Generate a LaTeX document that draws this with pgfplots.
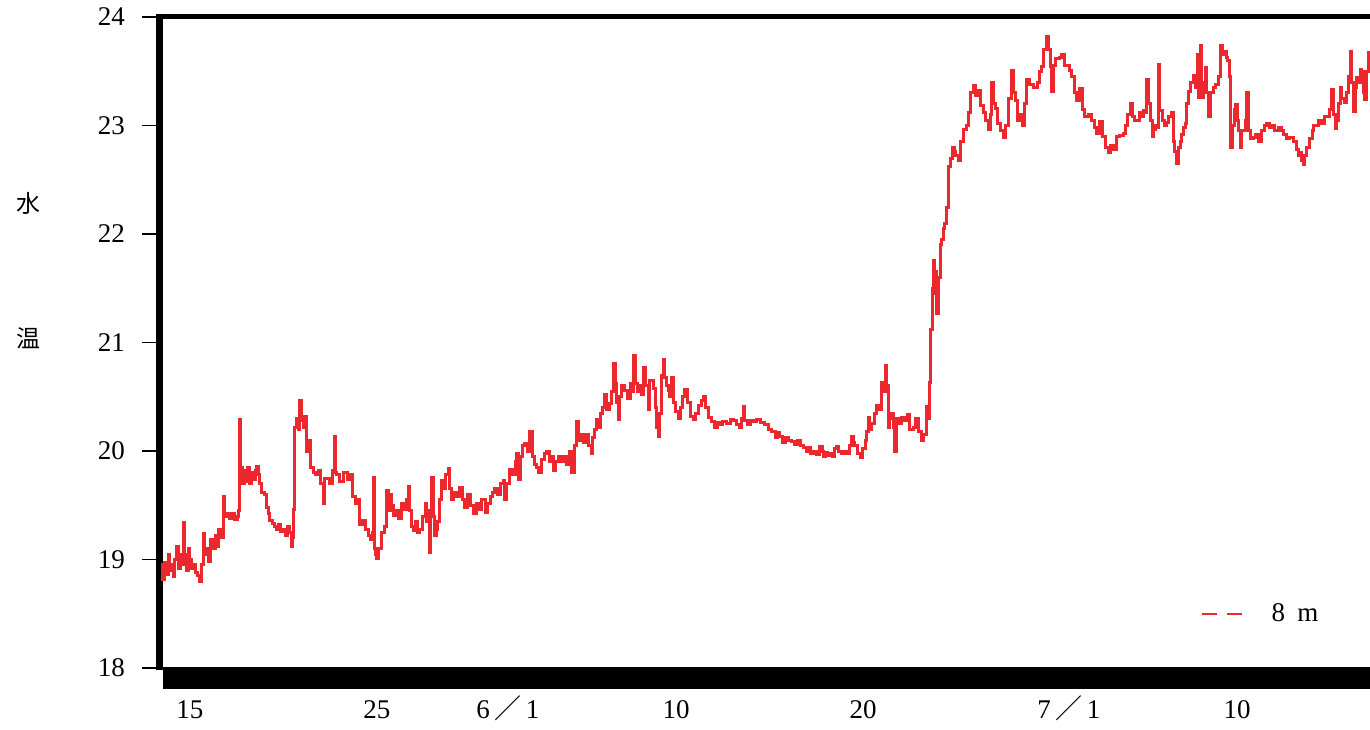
\documentclass[border=0pt]{standalone}
\usepackage{pgfplots}
\pgfplotsset{compat=1.18}
\usepackage{fontspec}
\setmainfont{Liberation Serif}
\newfontfamily\cjk{Noto Sans CJK JP}
\definecolor{plotred}{RGB}{236,40,46}
\begin{document}
\begin{tikzpicture}
\useasboundingbox (-80pt,-30.5pt) rectangle (605pt,334pt);
\begin{axis}[
  scale only axis,
  width=605pt, height=325.5pt,
  xmin=13.4, xmax=78.1,
  ymin=18, ymax=24,
  clip=false,
  axis line style={draw=none},
  font=\fontsize{13.5}{16}\selectfont,
  /pgf/number format/assume math mode=true,
  ytick={18,19,20,21,22,23,24},
  ytick pos=left,
  tick align=outside,
  major tick length=9pt,
  ytick style={black, line width=0.8pt},
  yticklabel style={xshift=-5pt},
  xtick={15,25,32,41,51,62,71},
  xticklabels={15,25,{6\,{\cjk ／}\,1},10,20,{7\,{\cjk ／}\,1},10},
  xtick style={draw=none},
  xticklabel style={anchor=base, yshift=-16pt},
  legend style={draw=none, fill=none, at={(axis description cs:0.8595,0.083)}, anchor=west, inner sep=0pt, font=\fontsize{13.5}{16}\selectfont},
]
% frame
\fill[black] (axis cs:13.56,18.01) rectangle (axis cs:78.3,17.806);
\draw[black, line width=3.5pt] (axis cs:13.396,24.03) -- (axis cs:13.396,17.98);
\draw[black, line width=2.5pt] (axis cs:13.3,24.005) -- (axis cs:78.3,24.005);

\addplot[const plot, plotred, line width=1.5pt, forget plot] coordinates {
(13.45,18.95)(13.55,18.82)(13.66,18.97)(13.75,18.86)(13.85,19.05)(13.93,18.90)(14.02,18.95)(14.12,18.84)(14.20,19.00)(14.29,19.12)(14.38,18.92)(14.47,19.05)(14.55,18.95)(14.64,19.34)(14.70,19.05)(14.80,18.90)(14.90,19.10)(15.00,19.00)(15.10,18.92)(15.20,18.95)(15.30,18.88)(15.40,18.85)(15.50,18.80)(15.60,18.95)(15.71,19.24)(15.80,19.05)(15.90,19.10)(16.00,18.98)(16.10,19.18)(16.25,19.10)(16.35,19.22)(16.45,19.12)(16.55,19.28)(16.65,19.20)(16.78,19.58)(16.85,19.40)(16.96,19.42)(17.10,19.38)(17.25,19.42)(17.40,19.37)(17.55,19.40)(17.62,19.45)(17.67,20.29)(17.72,19.85)(17.80,19.70)(17.90,19.82)(18.00,19.72)(18.10,19.85)(18.20,19.70)(18.30,19.80)(18.40,19.74)(18.50,19.82)(18.57,19.86)(18.65,19.78)(18.74,19.70)(18.85,19.62)(19.00,19.60)(19.10,19.48)(19.20,19.42)(19.28,19.36)(19.40,19.33)(19.50,19.30)(19.63,19.28)(19.75,19.32)(19.85,19.26)(20.00,19.28)(20.10,19.22)(20.20,19.30)(20.35,19.25)(20.44,19.12)(20.50,19.20)(20.53,19.46)(20.58,20.00)(20.61,20.22)(20.70,20.30)(20.80,20.20)(20.88,20.47)(20.95,20.28)(21.05,20.22)(21.15,20.32)(21.24,20.00)(21.35,20.10)(21.45,19.85)(21.59,19.80)(21.70,19.78)(21.85,19.82)(22.00,19.70)(22.13,19.52)(22.20,19.75)(22.31,19.75)(22.45,19.70)(22.60,19.82)(22.75,20.13)(22.80,19.80)(22.84,19.78)(23.00,19.72)(23.20,19.80)(23.40,19.74)(23.56,19.78)(23.70,19.58)(23.85,19.52)(24.00,19.55)(24.09,19.32)(24.25,19.36)(24.40,19.28)(24.55,19.22)(24.63,19.18)(24.75,19.25)(24.80,19.76)(24.85,19.10)(24.92,19.05)(24.98,19.01)(25.10,19.10)(25.25,19.25)(25.40,19.30)(25.52,19.64)(25.60,19.45)(25.70,19.60)(25.80,19.50)(25.87,19.41)(26.00,19.45)(26.15,19.38)(26.30,19.52)(26.45,19.46)(26.59,19.55)(26.67,19.67)(26.75,19.45)(26.85,19.30)(26.94,19.27)(27.05,19.35)(27.15,19.25)
(27.30,19.28)(27.45,19.40)(27.57,19.52)(27.65,19.35)(27.75,19.45)(27.83,19.06)(27.88,19.40)(27.92,19.76)(28.00,19.40)(28.08,19.22)(28.16,19.28)(28.25,19.35)(28.35,19.55)(28.46,19.73)(28.55,19.65)(28.65,19.78)(28.81,19.84)(28.90,19.65)(29.00,19.55)(29.10,19.62)(29.26,19.58)(29.40,19.66)(29.55,19.55)(29.70,19.48)(29.85,19.60)(30.00,19.50)(30.15,19.42)(30.30,19.52)(30.45,19.46)(30.60,19.55)(30.78,19.43)(30.90,19.52)(31.05,19.58)(31.20,19.62)(31.31,19.65)(31.45,19.60)(31.60,19.70)(31.76,19.73)(31.84,19.55)(31.95,19.70)(32.11,19.83)(32.25,19.78)(32.40,19.90)(32.47,19.98)(32.56,19.74)(32.65,19.95)(32.80,20.05)(32.91,20.07)(33.05,20.00)(33.18,20.18)(33.30,19.95)(33.45,19.88)(33.54,19.85)(33.65,19.80)(33.80,19.92)(33.95,19.98)(34.07,20.00)(34.20,19.90)(34.30,19.95)(34.43,19.82)(34.55,19.90)(34.70,19.95)(34.88,19.90)(35.00,19.95)(35.15,19.88)(35.32,20.00)(35.41,19.80)(35.55,20.05)(35.68,20.27)(35.80,20.10)(35.90,20.15)(36.03,20.08)(36.15,20.15)(36.30,20.05)(36.48,19.98)(36.55,20.12)(36.65,20.20)(36.75,20.29)(36.85,20.22)(36.95,20.35)(37.05,20.40)(37.19,20.52)(37.30,20.38)(37.46,20.44)(37.55,20.55)(37.64,20.81)(37.73,20.62)(37.82,20.45)(37.90,20.29)(37.98,20.50)(38.10,20.60)(38.26,20.56)(38.40,20.48)(38.55,20.62)(38.65,20.55)(38.71,20.88)(38.80,20.62)(38.92,20.55)(39.06,20.60)(39.15,20.52)(39.24,20.77)(39.35,20.60)(39.51,20.38)(39.60,20.65)(39.69,20.65)(39.78,20.58)(39.90,20.40)(39.96,20.22)(40.04,20.13)(40.12,20.35)(40.20,20.70)(40.31,20.84)(40.40,20.68)(40.50,20.60)(40.57,20.56)(40.65,20.50)(40.76,20.68)(40.85,20.45)(40.99,20.36)(41.10,20.30)(41.25,20.40)(41.35,20.50)(41.47,20.57)(41.60,20.45)(41.75,20.32)(41.91,20.29)(42.05,20.35)(42.20,20.42)(42.35,20.47)(42.45,20.50)(42.55,20.40)(42.72,20.31)(42.90,20.27)(43.05,20.22)(43.20,20.26)(43.34,20.24)(43.50,20.27)(43.70,20.25)(43.90,20.29)(44.05,20.28)(44.25,20.24)(44.41,20.22)(44.50,20.30)(44.59,20.41)(44.68,20.28)(44.80,20.24)(44.95,20.28)(45.12,20.27)(45.30,20.29)(45.50,20.26)(45.70,20.24)(45.93,20.20)(46.10,20.18)(46.30,20.12)(46.40,20.17)(46.55,20.13)(46.70,20.08)(46.85,20.12)(47.00,20.10)(47.18,20.09)(47.35,20.06)(47.50,20.10)(47.65,20.05)(47.80,20.03)(47.95,20.00)(48.10,20.03)(48.20,19.98)(48.33,20.00)(48.50,19.97)(48.69,20.04)(48.80,20.00)(48.87,19.95)(49.00,19.99)(49.10,19.96)(49.22,19.98)(49.35,19.95)(49.45,20.02)(49.58,20.04)(49.70,20.00)(49.85,19.98)(50.00,20.00)(50.12,19.98)(50.25,20.05)(50.39,20.13)(50.50,20.08)(50.56,20.05)(50.70,19.98)(50.83,19.94)(50.95,20.02)(51.10,20.10)(51.20,20.18)(51.27,20.31)(51.36,20.20)(51.45,20.25)(51.58,20.35)(51.72,20.42)(51.85,20.38)(51.99,20.63)(52.08,20.55)(52.17,20.79)(52.25,20.60)(52.34,20.22)(52.43,20.30)(52.52,20.35)(52.60,20.22)(52.70,20.00)(52.78,20.30)(52.90,20.25)(53.06,20.31)(53.20,20.28)(53.35,20.34)(53.50,20.20)(53.68,20.22)(53.80,20.30)(53.95,20.18)(54.12,20.10)(54.25,20.15)(54.39,20.41)(54.48,20.30)(54.57,20.63)(54.61,21.12)(54.68,21.50)(54.75,21.76)(54.82,21.45)(54.88,21.65)(54.93,21.27)(55.00,21.60)(55.11,21.90)(55.20,21.95)(55.28,22.05)(55.37,22.10)(55.46,22.24)(55.55,22.62)(55.65,22.70)(55.75,22.80)(55.86,22.76)(55.95,22.72)(56.09,22.68)(56.20,22.85)(56.36,22.96)(56.50,23.00)(56.63,23.12)(56.75,23.30)(56.89,23.37)(57.00,23.28)(57.10,23.32)(57.25,23.18)(57.43,23.12)(57.55,23.05)(57.69,22.96)(57.80,23.10)(57.87,23.40)(57.95,23.20)(58.05,23.16)(58.20,23.02)(58.35,22.95)(58.49,22.89)(58.60,23.00)(58.76,23.25)(58.94,23.51)(59.05,23.30)(59.12,23.23)(59.25,23.05)(59.39,23.10)(59.50,23.00)(59.60,23.20)(59.74,23.42)(59.90,23.38)(60.13,23.35)(60.30,23.40)(60.45,23.50)(60.54,23.54)(60.65,23.70)(60.81,23.82)(60.90,23.70)(60.99,23.54)(61.08,23.31)(61.18,23.55)(61.30,23.62)(61.47,23.63)(61.60,23.65)(61.75,23.55)(62.01,23.51)(62.15,23.45)(62.30,23.30)(62.42,23.23)(62.59,23.34)(62.70,23.15)(62.85,23.08)(63.04,23.10)(63.20,23.05)(63.35,22.98)(63.49,22.93)(63.66,23.04)(63.80,22.90)(63.95,22.80)(64.11,22.75)(64.25,22.82)(64.40,22.78)(64.55,22.90)(64.73,22.91)(64.91,22.93)(65.00,23.00)(65.15,23.10)(65.27,23.20)(65.40,23.08)(65.50,23.05)(65.63,23.05)(65.75,23.12)(65.85,23.08)(65.98,23.14)(66.08,23.12)(66.16,23.42)(66.25,23.20)(66.35,23.05)(66.45,22.90)(66.52,22.96)(66.62,23.00)(66.70,22.98)(66.79,23.56)(66.87,23.14)(67.00,23.05)(67.10,23.00)(67.23,23.03)(67.35,23.08)(67.50,23.12)(67.58,22.85)(67.67,22.76)(67.76,22.65)(67.85,22.80)(67.95,22.85)(68.03,22.92)(68.12,22.98)(68.21,23.02)(68.30,23.20)(68.39,23.31)(68.50,23.40)(68.65,23.46)(68.75,23.35)(68.85,23.65)(68.92,23.26)(69.01,23.74)(69.10,23.26)(69.20,23.40)(69.28,23.53)(69.37,23.30)(69.46,23.08)(69.55,23.30)(69.72,23.35)(69.85,23.38)(69.98,23.45)(70.08,23.74)(70.20,23.65)(70.30,23.68)(70.40,23.63)(70.50,23.60)(70.61,23.45)(70.64,22.80)(70.75,23.00)(70.85,23.15)(70.92,23.19)(71.00,23.05)(71.08,22.95)(71.15,22.80)(71.25,22.95)(71.42,23.05)(71.51,23.30)(71.58,22.95)(71.70,22.88)(71.86,22.89)(72.00,22.92)(72.15,22.85)(72.30,22.95)(72.45,23.00)(72.58,23.02)(72.70,22.98)(72.85,23.00)(73.00,22.95)(73.20,22.98)(73.35,22.95)(73.50,22.92)(73.65,22.88)(73.82,22.89)(74.00,22.85)(74.15,22.78)(74.25,22.72)(74.36,22.75)(74.45,22.68)(74.53,22.64)(74.62,22.72)(74.71,22.80)(74.85,22.88)(75.00,22.95)(75.10,23.00)(75.20,23.00)(75.35,23.05)(75.50,23.02)(75.65,23.08)(75.82,23.08)(75.95,23.15)(76.05,23.33)(76.15,23.10)(76.25,22.97)(76.32,23.05)(76.40,23.20)(76.50,23.35)(76.60,23.25)(76.71,23.21)(76.85,23.30)(76.95,23.45)(77.03,23.68)(77.10,23.40)(77.21,23.13)(77.30,23.35)(77.40,23.44)(77.47,23.40)(77.57,23.52)(77.66,23.50)(77.75,23.30)(77.83,23.24)(77.92,23.50)(78.02,23.67)(78.10,23.55)
};
\addlegendimage{plotred, legend image code/.code={\draw[plotred, line width=1.2pt, dash pattern=on 7.5pt off 5pt] (0pt,0pt) -- (20pt,0pt); \path[draw=none, fill=none] (0pt,0pt) -- (33pt,0pt);}}
\addlegendentry{8\hspace{0.45em}m}

\node[font=\cjk\fontsize{12}{14}\selectfont] at (axis description cs:-0.109,0.714) {水};
\node[font=\cjk\fontsize{12}{14}\selectfont] at (axis description cs:-0.109,0.507) {温};
\end{axis}
\end{tikzpicture}
\end{document}
